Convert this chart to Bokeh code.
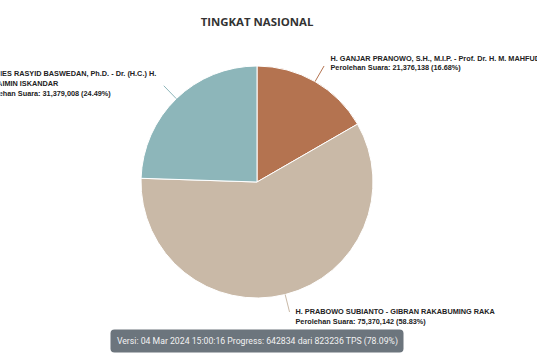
import math
from bokeh.plotting import figure
from bokeh.models import Range1d
from bokeh.core.properties import value
from bokeh.embed import file_html
from bokeh.resources import INLINE

# ---- data ----
title = "TINGKAT NASIONAL"
candidates = [
    "H. GANJAR PRANOWO, S.H., M.I.P. - Prof. Dr. H. M. MAHFUD MD",
    "H. PRABOWO SUBIANTO - GIBRAN RAKABUMING RAKA",
    "H. ANIES RASYID BASWEDAN, Ph.D. - Dr. (H.C.) H. MUHAIMIN ISKANDAR",
]
name_lines = [
    ["H. GANJAR PRANOWO, S.H., M.I.P. - Prof. Dr. H. M. MAHFUD MD"],
    ["H. PRABOWO SUBIANTO - GIBRAN RAKABUMING RAKA"],
    ["H. ANIES RASYID BASWEDAN, Ph.D. - Dr. (H.C.) H.", "MUHAIMIN ISKANDAR"],
]
votes = [21376138, 75370142, 31379008]
percents = ["16.68%", "58.83%", "24.49%"]
colors = ["#b47350", "#c9b9a7", "#8db6ba"]
footer = "Versi: 04 Mar 2024 15:00:16 Progress: 642834 dari 823236 TPS (78.09%)"

# ---- layout (picture pixels) ----
W, H = 537, 360
cx, cy, R = 256.5, 181.5, 116
label_pos = [(330, 57.5), (295, 311.2), (-20, 73.2)]   # start x, first line y
line_gap = 9.7

def Y(py):
    return H - py

p = figure(width=W, height=H, output_backend="svg", toolbar_location=None,
           x_range=Range1d(0, W), y_range=Range1d(0, H), min_border=0)
p.axis.visible = False
p.grid.visible = False
p.outline_line_color = None
p.background_fill_color = "white"
p.border_fill_color = "white"

total = sum(votes)
start = math.pi / 2
starts, ends, mids = [], [], []
for v in votes:
    a = 2 * math.pi * v / total
    starts.append(start)
    ends.append(start - a)
    mids.append(start - a / 2)
    start -= a

p.wedge(x=[cx] * 3, y=[Y(cy)] * 3, radius=R, radius_units="screen",
        start_angle=starts, end_angle=ends, direction="clock",
        fill_color=colors, line_color="white", line_width=1)

# connector lines
r1, r2 = R, R + 18
x0 = [cx + r1 * math.cos(m) for m in mids]
y0 = [Y(cy) + r1 * math.sin(m) for m in mids]
x1 = [cx + r2 * math.cos(m) for m in mids]
y1 = [Y(cy) + r2 * math.sin(m) for m in mids]
p.segment(x0=x0, y0=y0, x1=x1, y1=y1, line_color=colors, line_width=1)

# labels
tx, ty, tt = [], [], []
for i in range(3):
    lines = name_lines[i] + ["Perolehan Suara: {:,} ({})".format(votes[i], percents[i])]
    sx, sy = label_pos[i]
    for j, ln in enumerate(lines):
        tx.append(sx)
        ty.append(Y(sy + j * line_gap))
        tt.append(ln)
p.text(x=tx, y=ty, text=tt, text_font=value("Liberation Sans"), text_font_style="bold",
       text_font_size="7.3px", text_color="#222222", text_align="left", text_baseline="middle")

# title
p.text(x=[256.5], y=[Y(21)], text=[title], text_font=value("Open Sans"),
       text_font_style="bold", text_font_size="11.4px", text_color="#333333",
       text_align="center", text_baseline="middle")

# footer badge
p.quad(left=[110], right=[403], top=[Y(329)], bottom=[Y(352)], fill_color="#6c757d",
       line_color=None, border_radius=4)
p.text(x=[257], y=[Y(340.5)], text=[footer], text_font=value("Roboto"),
       text_font_size="8.7px", text_color="#f2f2f2", text_align="center",
       text_baseline="middle")

open("out.html", "w").write(file_html(p, INLINE))
